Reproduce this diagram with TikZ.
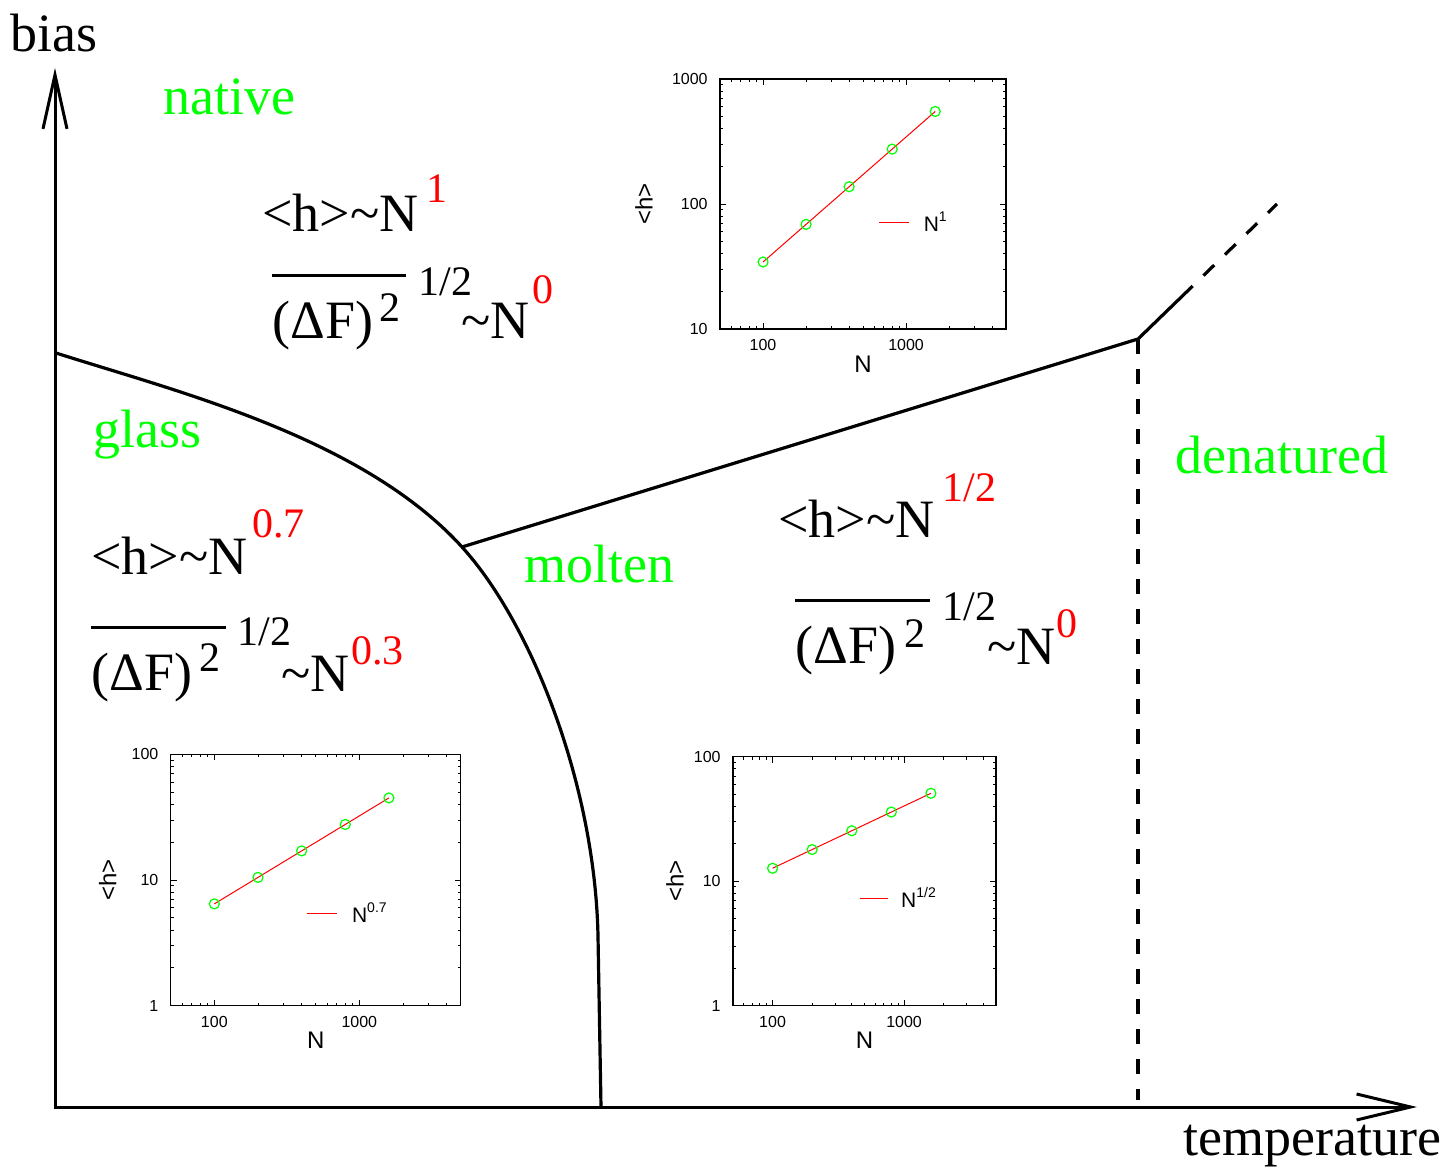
\documentclass[tikz,border=0pt]{standalone}
\usepackage{fontspec}
\setmainfont{Liberation Serif}
\newfontfamily\plotfont{Liberation Sans}
\usetikzlibrary{arrows.meta}
\definecolor{phasegreen}{RGB}{0,255,0}
\definecolor{expred}{RGB}{255,0,0}

\begin{document}
\begin{tikzpicture}[x=0.5pt, y=-0.5pt,
    every node/.style={inner sep=0pt},
    axisline/.style={line width=1.5pt, {Straight Barb[length=27pt, width=12pt]}-{Straight Barb[length=27pt, width=13pt]}},
    phaseline/.style={line width=1.6pt},
    region/.style={text=phasegreen, font=\fontsize{27}{30}\selectfont, anchor=base west},
    law/.style={font=\fontsize{27}{30}\selectfont, anchor=base west},
    expo/.style={font=\fontsize{21}{24}\selectfont, anchor=base west},
    redexpo/.style={expo, text=expred},
    fluctbar/.style={line width=1.5pt},
    insetframe/.style={line width=0.6pt},
    insettick/.style={line width=0.4pt},
    tlabel/.style={font=\plotfont\fontsize{8}{9}\selectfont},
    alabel/.style={font=\plotfont\fontsize{12}{13}\selectfont},
    fitline/.style={expred, line width=0.5pt},
    datapt/.style={phasegreen, line width=0.6pt}]

    \useasboundingbox (0,0) rectangle (1453,1171);

    \coordinate (origin) at (55,1107);
    \coordinate (ytip) at (55,68);
    \coordinate (xtip) at (1417,1107);
    \draw[axisline] (ytip) -- (origin) -- (xtip);
    \node[font=\fontsize{27}{30}\selectfont, anchor=base west] (bias) at (10,52) {bias};
    \node[font=\fontsize{27}{30}\selectfont, anchor=base west] (temperature) at (1183,1155) {temperature};

    \node[region] (native) at (163,115) {native};
    \node[region] (glass) at (93,448) {glass};
    \node[region] (molten) at (524,583) {molten};
    \node[region] (denatured) at (1175,474) {denatured};

    \coordinate (glassleft) at (56,353);
    \coordinate (triple) at (462,547);
    \coordinate (bend) at (598,936);
    \coordinate (glassfoot) at (601,1107);
    \coordinate (corner) at (1138,339);
    \coordinate (kink) at (1192.7,286);
    \coordinate (far) at (1277,204);
    \coordinate (dashfoot) at (1138,1100);
    \draw[phaseline] (glassleft) .. controls (176,391.4) and (362,437) .. (triple)
        .. controls (532,624) and (595,786) .. (bend) -- (glassfoot);
    \draw[phaseline] (triple) -- (corner) -- (kink);
    \draw[phaseline, dash pattern=on 7.5pt off 7.5pt, dash phase=7.5pt] (kink) -- (far);
    \draw[phaseline, dash pattern=on 7.5pt off 7.5pt] (corner) -- (dashfoot);

    \node[law] (hnative) at (262,232) {<h>\textasciitilde N};
    \node[redexpo] (hnativeexp) at (426,203) {1};
    \draw[fluctbar] (272,276) -- (406,276);
    \node[law] (dfnative) at (272,339) {(ΔF)};
    \node[expo] (dfnativesq) at (379,322) {2};
    \node[expo] (dfnativehalf) at (418,296) {1/2};
    \node[law] (fnative) at (461,339) {\textasciitilde N};
    \node[redexpo] (fnativeexp) at (532,304) {0};

    \node[law] (hglass) at (91,575) {<h>\textasciitilde N};
    \node[redexpo] (hglassexp) at (252,538) {0.7};
    \draw[fluctbar] (91,628) -- (226,628);
    \node[law] (dfglass) at (91,691) {(ΔF)};
    \node[expo] (dfglasssq) at (199,672) {2};
    \node[expo] (dfglasshalf) at (237,646) {1/2};
    \node[law] (fglass) at (281,692) {\textasciitilde N};
    \node[redexpo] (fglassexp) at (351,665) {0.3};

    \node[law] (hmolten) at (778,538) {<h>\textasciitilde N};
    \node[redexpo] (hmoltenexp) at (942,502) {1/2};
    \draw[fluctbar] (795,601) -- (930,601);
    \node[law] (dfmolten) at (795,664) {(ΔF)};
    \node[expo] (dfmoltensq) at (904,648) {2};
    \node[expo] (dfmoltenhalf) at (942,621) {1/2};
    \node[law] (fmolten) at (987,665) {\textasciitilde N};
    \node[redexpo] (fmoltenexp) at (1056,638) {0};

    \foreach \inset/\lx/\ly/\dx/\dy/\ylo/\ymid/\yhi/\hz/\slope/\power/\lgx/\lgy/\hlx in {
        native/720/329/143/125/10/100/1000/0.536/1/1/1.112/0.85/76,
        glass/170.7/1005.7/145/125.7/1/10/100/0.81/0.7/0.7/0.938/0.737/63,
        molten/733/1005.7/131.5/124.5/1/10/100/1.104/0.5/{1/2}/0.966/0.865/58} {
    \begin{scope}[xshift=\lx*0.5pt, yshift=-\ly*0.5pt, x=\dx*0.5pt, y=\dy*0.5pt]
        \draw[insetframe] (0,0) rectangle (2,2);
        \foreach \m in {60,70,80,90,200,300,400,500,600,700,800,900,2000,3000,4000} {
            \draw[insettick] ({log10(\m/50)},0) -- ++(0pt,1.5pt);
            \draw[insettick] ({log10(\m/50)},2) -- ++(0pt,-1.5pt);
        }
        \foreach \m in {100,1000} {
            \draw[insettick] ({log10(\m/50)},0) -- ++(0pt,3pt);
            \draw[insettick] ({log10(\m/50)},2) -- ++(0pt,-3pt);
        }
        \foreach \k in {0,1} {
            \foreach \j in {2,...,9} {
                \draw[insettick] (0,{\k+log10(\j)}) -- ++(1.5pt,0pt);
                \draw[insettick] (2,{\k+log10(\j)}) -- ++(-1.5pt,0pt);
            }
        }
        \draw[insettick] (0,1) -- ++(3pt,0pt);
        \draw[insettick] (2,1) -- ++(-3pt,0pt);

        \draw[fitline] ({log10(2)},\hz) -- ({log10(32)},{\hz+\slope*log10(16)});
        \foreach \n in {100,200,400,800,1600}
            \draw[datapt] ({log10(\n/50)},{\hz+\slope*log10(\n/100)}) circle[radius=2.5pt];

        \draw[fitline] (\lgx,\lgy) -- ({\lgx+0.21},\lgy);
        \node[anchor=base west, yshift=-4.5pt, font=\plotfont\fontsize{10.5}{12}\selectfont] (\inset-key) at ({\lgx+0.31},\lgy) {N\raisebox{5pt}{\fontsize{7}{8}\selectfont\power}};

        \node[tlabel, anchor=east, xshift=-6pt] (\inset-ylo) at (0,0) {\ylo};
        \node[tlabel, anchor=east, xshift=-6pt] (\inset-ymid) at (0,1) {\ymid};
        \node[tlabel, anchor=east, xshift=-6pt] (\inset-yhi) at (0,2) {\yhi};
        \node[tlabel, yshift=-8pt] (\inset-xlo) at ({log10(2)},0) {100};
        \node[tlabel, yshift=-8pt] (\inset-xhi) at ({log10(20)},0) {1000};
        \node[alabel, yshift=-17.5pt] (\inset-N) at (1,0) {N};
        \node[alabel, rotate=90] (\inset-h) at ({-\hlx/\dx},1) {<h>};
    \end{scope}
    }
\end{tikzpicture}
\end{document}
